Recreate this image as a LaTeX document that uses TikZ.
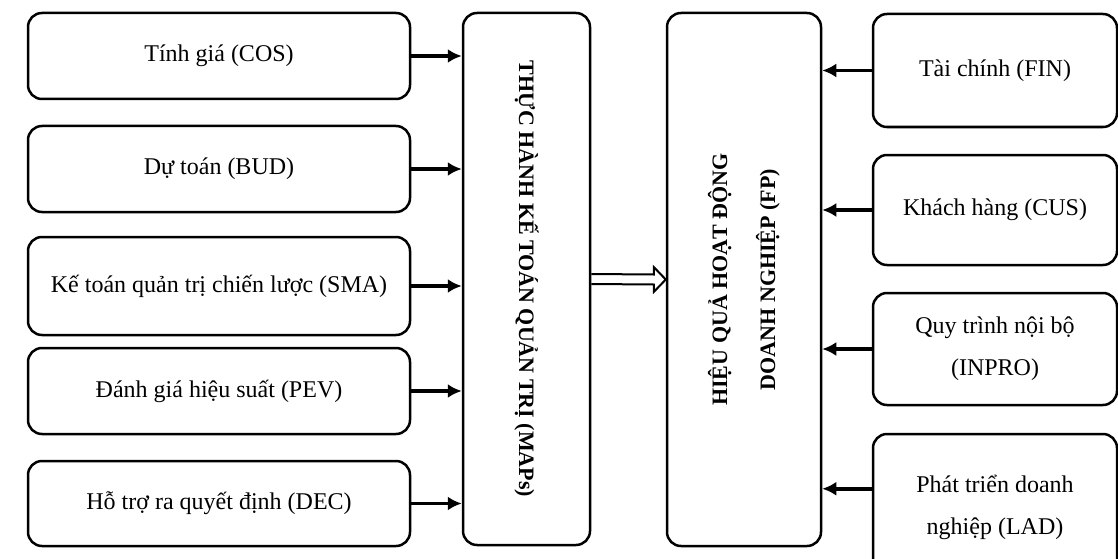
\documentclass[tikz,border=0pt]{standalone}
\usepackage{fontspec}
\setmainfont{Liberation Serif}
\usetikzlibrary{arrows.meta,calc}

\begin{document}
\begin{tikzpicture}[x=1pt,y=-1pt,
  box/.style={draw, line width=2.5pt, rounded corners=14pt, align=center, inner sep=0pt, font=\fontsize{24}{42}\selectfont},
  arr/.style={line width=3.5pt, -{Latex[length=14pt,width=14pt]}},
  title/.style={align=center, font=\bfseries\fontsize{22}{48}\selectfont}]
\useasboundingbox (0,0) rectangle (1118,559);
\clip (0,0) rectangle (1118,559);

% left column
\node[box, minimum width=382pt, minimum height=86pt] (cos) at (219,56) {Tính giá (COS)};
\node[box, minimum width=382pt, minimum height=86pt] (bud) at (219,169) {Dự toán (BUD)};
\node[box, minimum width=382pt, minimum height=98pt] (sma) at (219,286) {Kế toán quản trị chiến lược (SMA)};
\node[box, minimum width=382pt, minimum height=86pt] (pev) at (219,391) {Đánh giá hiệu suất (PEV)};
\node[box, minimum width=382pt, minimum height=85pt] (dec) at (219,503.5) {Hỗ trợ ra quyết định (DEC)};

% middle
\node[box, minimum width=127pt, minimum height=532pt] (maps) at (526.5,279) {};
\node[title, rotate=-90] (mapstext) at (maps) {THỰC HÀNH KẾ TOÁN QUẢN TRỊ (MAPs)};
\node[box, minimum width=154pt, minimum height=533pt] (fp) at (744,279.5) {};
\node[title, rotate=90] (fptext) at (fp) {HIỆU QUẢ HOẠT ĐỘNG\\DOANH NGHIỆP (FP)};

% right column
\node[box, minimum width=244pt, minimum height=113pt] (fin) at (995,70.5) {Tài chính (FIN)};
\node[box, minimum width=244pt, minimum height=110pt] (cus) at (995,210) {Khách hàng (CUS)};
\node[box, minimum width=244pt, minimum height=112pt] (inpro) at (995,349) {Quy trình nội bộ\\(INPRO)};
\node[box, minimum width=244pt, minimum height=146pt] (lad) at (995,507) {Phát triển doanh\\nghiệp (LAD)};

\draw[arr] (cos.east) -- (cos.east -| maps.west);
\draw[arr] (bud.east) -- (bud.east -| maps.west);
\draw[arr] (sma.east) -- (sma.east -| maps.west);
\draw[arr] (pev.east) -- (pev.east -| maps.west);
\draw[arr] (dec.east) -- (dec.east -| maps.west);

\draw[arr] (fin.west) -- (fin.west -| fp.east);
\draw[arr] (cus.west) -- (cus.west -| fp.east);
\draw[arr] (inpro.west) -- (inpro.west -| fp.east);
\coordinate (ladin) at ($(lad.north west)+(0,56)$);
\draw[arr] (ladin) -- (ladin -| fp.east);

% hollow arrow
\draw[line width=2pt, line join=miter] ($(maps.east)+(0,-5)$) -- ($(fp.west)+(-12,-5)$) -- ($(fp.west)+(-12,-12.5)$) -- (fp.west)
  -- ($(fp.west)+(-12,12.5)$) -- ($(fp.west)+(-12,5)$) -- ($(maps.east)+(0,5)$);
\end{tikzpicture}
\end{document}
